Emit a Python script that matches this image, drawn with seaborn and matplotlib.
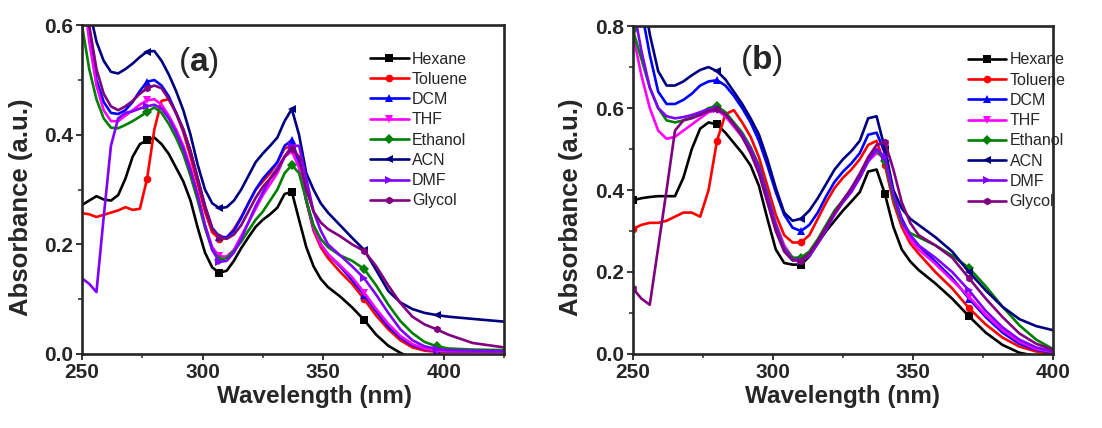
import numpy as np
import pandas as pd
import seaborn as sns
import matplotlib
matplotlib.use("Agg")
import matplotlib.pyplot as plt
from matplotlib.ticker import MultipleLocator

# ---------------- data ----------------
solvents = ["Hexane", "Toluene", "DCM", "THF", "Ethanol", "ACN", "DMF", "Glycol"]
colors = ["#000000", "#FF0000", "#0000FF", "#FF00FF", "#008000", "#000080", "#8000FF", "#800080"]
markers = ["s", "o", "^", "v", "D", "<", ">", "h"]

# panel (a) wavelengths (nm)
wl_a = [250, 253, 256, 259, 262, 265, 268, 271, 274, 277, 280, 283, 286, 289, 292, 295,
        298, 301, 304, 307, 310, 313, 316, 319, 322, 325, 328, 331, 334, 337, 340, 343,
        346, 349, 352, 357, 362, 367, 372, 377, 382, 387, 392, 397, 402, 412, 425]

hexane_a = [0.272, 0.280, 0.288, 0.282, 0.280, 0.290, 0.320, 0.360, 0.383, 0.390, 0.395, 0.383,
            0.365, 0.340, 0.315, 0.280, 0.230, 0.185, 0.158, 0.148, 0.152, 0.170, 0.193, 0.213,
            0.232, 0.245, 0.255, 0.267, 0.292, 0.296, 0.245, 0.195, 0.160, 0.137, 0.122, 0.105,
            0.085, 0.062, 0.035, 0.015, 0.002, -0.008, -0.015, -0.020, -0.020, -0.020, -0.020]
toluene_a = [0.257, 0.255, 0.250, 0.254, 0.258, 0.262, 0.268, 0.263, 0.265, 0.320, 0.410, 0.462,
             0.465, 0.440, 0.405, 0.360, 0.310, 0.260, 0.222, 0.210, 0.212, 0.228, 0.250, 0.275,
             0.300, 0.315, 0.330, 0.350, 0.375, 0.380, 0.350, 0.280, 0.225, 0.195, 0.175, 0.150,
             0.128, 0.100, 0.070, 0.045, 0.025, 0.012, 0.006, 0.004, 0.004, 0.004, 0.004]
dcm_a = [0.700, 0.585, 0.500, 0.460, 0.440, 0.438, 0.445, 0.460, 0.480, 0.497, 0.500, 0.490,
         0.470, 0.440, 0.410, 0.370, 0.320, 0.270, 0.230, 0.214, 0.213, 0.225, 0.248, 0.275,
         0.300, 0.320, 0.335, 0.350, 0.380, 0.390, 0.350, 0.280, 0.230, 0.200, 0.182, 0.160,
         0.135, 0.108, 0.078, 0.050, 0.030, 0.016, 0.009, 0.006, 0.005, 0.005, 0.005]
thf_a = [0.690, 0.570, 0.490, 0.445, 0.425, 0.425, 0.435, 0.445, 0.455, 0.463, 0.465, 0.455,
         0.435, 0.410, 0.380, 0.340, 0.290, 0.235, 0.195, 0.178, 0.178, 0.190, 0.215, 0.240,
         0.265, 0.290, 0.310, 0.330, 0.360, 0.370, 0.340, 0.280, 0.230, 0.200, 0.182, 0.162,
         0.140, 0.112, 0.082, 0.055, 0.033, 0.018, 0.010, 0.006, 0.005, 0.005, 0.005]
ethanol_a = [0.600, 0.520, 0.465, 0.430, 0.413, 0.412, 0.418, 0.425, 0.433, 0.442, 0.450, 0.440,
             0.420, 0.395, 0.365, 0.325, 0.280, 0.230, 0.190, 0.172, 0.175, 0.188, 0.205, 0.225,
             0.245, 0.260, 0.280, 0.300, 0.330, 0.345, 0.330, 0.280, 0.235, 0.210, 0.195, 0.180,
             0.170, 0.155, 0.125, 0.090, 0.060, 0.038, 0.022, 0.014, 0.010, 0.008, 0.007]
acn_a = [0.720, 0.630, 0.570, 0.535, 0.515, 0.512, 0.520, 0.530, 0.542, 0.552, 0.553, 0.535,
         0.510, 0.480, 0.445, 0.400, 0.345, 0.300, 0.275, 0.266, 0.268, 0.280, 0.300, 0.325,
         0.350, 0.366, 0.380, 0.395, 0.425, 0.447, 0.400, 0.330, 0.300, 0.275, 0.258, 0.235,
         0.212, 0.190, 0.153, 0.115, 0.094, 0.082, 0.075, 0.071, 0.068, 0.064, 0.059]
dmf_a = [0.138, 0.128, 0.113, 0.250, 0.380, 0.430, 0.440, 0.443, 0.448, 0.452, 0.455, 0.448,
         0.430, 0.405, 0.375, 0.335, 0.290, 0.235, 0.190, 0.168, 0.170, 0.185, 0.210, 0.240,
         0.270, 0.295, 0.320, 0.340, 0.360, 0.380, 0.380, 0.320, 0.260, 0.225, 0.200, 0.180,
         0.160, 0.138, 0.108, 0.075, 0.045, 0.025, 0.014, 0.009, 0.007, 0.006, 0.005]
glycol_a = [0.720, 0.600, 0.520, 0.475, 0.452, 0.445, 0.452, 0.462, 0.475, 0.485, 0.490, 0.485,
            0.465, 0.440, 0.410, 0.370, 0.320, 0.270, 0.228, 0.213, 0.210, 0.218, 0.235, 0.260,
            0.285, 0.305, 0.320, 0.335, 0.360, 0.375, 0.360, 0.300, 0.260, 0.240, 0.228, 0.215,
            0.200, 0.188, 0.160, 0.125, 0.093, 0.068, 0.054, 0.045, 0.035, 0.020, 0.012]

# panel (b) wavelengths (nm)
wl_b = [250, 253, 256, 259, 262, 265, 268, 271, 274, 277, 280, 283, 286, 289, 292, 295,
        298, 301, 304, 307, 310, 313, 316, 319, 322, 325, 328, 331, 334, 337, 340, 343,
        346, 349, 352, 358, 364, 370, 376, 382, 388, 394, 400]

hexane_b = [0.375, 0.380, 0.383, 0.385, 0.385, 0.385, 0.430, 0.500, 0.550, 0.565, 0.560, 0.540,
            0.515, 0.490, 0.460, 0.410, 0.330, 0.255, 0.222, 0.218, 0.218, 0.238, 0.270, 0.300,
            0.325, 0.350, 0.372, 0.395, 0.445, 0.450, 0.390, 0.310, 0.255, 0.226, 0.205, 0.172,
            0.135, 0.092, 0.052, 0.022, 0.003, -0.005, -0.010]
toluene_b = [0.305, 0.315, 0.320, 0.320, 0.325, 0.335, 0.345, 0.345, 0.335, 0.400, 0.520, 0.585,
             0.595, 0.565, 0.530, 0.480, 0.410, 0.340, 0.290, 0.272, 0.272, 0.290, 0.330, 0.370,
             0.405, 0.430, 0.450, 0.475, 0.510, 0.520, 0.460, 0.370, 0.310, 0.270, 0.245, 0.200,
             0.160, 0.112, 0.072, 0.040, 0.018, 0.006, 0.000]
dcm_b = [0.950, 0.840, 0.730, 0.640, 0.610, 0.610, 0.620, 0.635, 0.655, 0.665, 0.668, 0.655,
         0.630, 0.600, 0.565, 0.520, 0.460, 0.395, 0.340, 0.308, 0.300, 0.315, 0.345, 0.385,
         0.420, 0.445, 0.465, 0.490, 0.535, 0.540, 0.490, 0.390, 0.330, 0.290, 0.265, 0.225,
         0.185, 0.135, 0.090, 0.052, 0.025, 0.010, 0.004]
thf_b = [0.780, 0.680, 0.600, 0.545, 0.525, 0.530, 0.545, 0.560, 0.575, 0.590, 0.595, 0.580,
         0.555, 0.530, 0.495, 0.450, 0.390, 0.320, 0.265, 0.235, 0.228, 0.240, 0.270, 0.305,
         0.345, 0.375, 0.400, 0.430, 0.470, 0.490, 0.480, 0.390, 0.320, 0.280, 0.255, 0.220,
         0.180, 0.140, 0.095, 0.058, 0.030, 0.012, 0.005]
ethanol_b = [0.790, 0.720, 0.650, 0.600, 0.570, 0.565, 0.570, 0.578, 0.588, 0.600, 0.605, 0.590,
             0.565, 0.540, 0.505, 0.460, 0.390, 0.315, 0.258, 0.235, 0.235, 0.250, 0.280, 0.315,
             0.350, 0.375, 0.400, 0.430, 0.475, 0.498, 0.470, 0.380, 0.320, 0.295, 0.285, 0.265,
             0.240, 0.210, 0.165, 0.115, 0.070, 0.035, 0.012]
acn_b = [1.000, 0.900, 0.780, 0.690, 0.655, 0.655, 0.665, 0.680, 0.693, 0.700, 0.690, 0.670,
         0.640, 0.610, 0.575, 0.535, 0.475, 0.405, 0.345, 0.325, 0.330, 0.350, 0.380, 0.415,
         0.450, 0.475, 0.495, 0.520, 0.575, 0.580, 0.500, 0.400, 0.355, 0.330, 0.315, 0.285,
         0.250, 0.200, 0.155, 0.115, 0.085, 0.068, 0.058]
dmf_b = [0.850, 0.740, 0.650, 0.600, 0.580, 0.575, 0.578, 0.583, 0.590, 0.597, 0.598, 0.585,
         0.560, 0.535, 0.500, 0.455, 0.385, 0.310, 0.255, 0.230, 0.228, 0.240, 0.270, 0.305,
         0.340, 0.370, 0.395, 0.430, 0.470, 0.500, 0.480, 0.390, 0.325, 0.290, 0.265, 0.235,
         0.200, 0.155, 0.105, 0.065, 0.035, 0.016, 0.006]
glycol_b = [0.160, 0.135, 0.120, 0.260, 0.400, 0.545, 0.570, 0.575, 0.583, 0.593, 0.597, 0.585,
            0.560, 0.530, 0.490, 0.440, 0.370, 0.300, 0.250, 0.228, 0.228, 0.245, 0.275, 0.310,
            0.345, 0.375, 0.405, 0.440, 0.480, 0.510, 0.517, 0.450, 0.370, 0.320, 0.290, 0.265,
            0.235, 0.185, 0.135, 0.090, 0.050, 0.025, 0.010]

series_a = [hexane_a, toluene_a, dcm_a, thf_a, ethanol_a, acn_a, dmf_a, glycol_a]
series_b = [hexane_b, toluene_b, dcm_b, thf_b, ethanol_b, acn_b, dmf_b, glycol_b]

# ---------------- style ----------------
sns.set_style("ticks")
plt.rcParams["font.family"] = ["Liberation Sans", "DejaVu Sans"]
plt.rcParams["mathtext.fontset"] = "custom"
plt.rcParams["mathtext.rm"] = "Liberation Sans"
plt.rcParams["mathtext.bf"] = "Liberation Sans:bold"

fig = plt.figure(figsize=(11.02, 4.28), dpi=100)
ax_a = fig.add_axes([0.0744, 0.173, 0.383, 0.768])
ax_b = fig.add_axes([0.5744, 0.173, 0.3811, 0.766])


def draw_panel(ax, wl, series, mark_idx, xlim, ylim, tag, tag_xy, leg_anchor, xlab_x, ylab_x):
    frames = []
    for name, vals in zip(solvents, series):
        frames.append(pd.DataFrame({"wavelength": wl, "absorbance": vals, "solvent": name}))
    df = pd.concat(frames, ignore_index=True)
    for name, col, mk in zip(solvents, colors, markers):
        sub = df[df["solvent"] == name]
        sns.lineplot(data=sub, x="wavelength", y="absorbance", ax=ax, color=col,
                     marker=mk, markersize=5.5, markeredgewidth=0, markevery=mark_idx,
                     linewidth=1.9, estimator=None, sort=False, errorbar=None, label=name)
    ax.set_xlim(*xlim)
    ax.set_ylim(*ylim)
    ax.xaxis.set_major_locator(MultipleLocator(50))
    ax.xaxis.set_minor_locator(MultipleLocator(25))
    ax.yaxis.set_major_locator(MultipleLocator(0.2))
    ax.yaxis.set_minor_locator(MultipleLocator(0.1))
    ax.yaxis.set_major_formatter(matplotlib.ticker.FormatStrFormatter("%.1f"))
    for sp in ax.spines.values():
        sp.set_linewidth(1.9)
        sp.set_visible(True)
    ax.tick_params(which="major", direction="out", length=4.5, width=1.3,
                   labelsize=15, pad=2)
    ax.tick_params(which="minor", direction="out", length=3, width=1.1)
    for lab in ax.get_xticklabels() + ax.get_yticklabels():
        lab.set_fontweight("bold")
    ax.set_xlabel("Wavelength (nm)", fontsize=17.5, fontweight="bold")
    ax.set_ylabel("Absorbance (a.u.)", fontsize=18.5, fontweight="bold")
    ax.xaxis.set_label_coords(xlab_x, -0.094)
    ax.yaxis.set_label_coords(ylab_x, 0.447)
    ax.text(tag_xy[0], tag_xy[1], r"$(\mathbf{" + tag + r"})$", transform=ax.transAxes,
            fontsize=24, ha="center", va="center")
    ax.legend(loc="upper left", bbox_to_anchor=leg_anchor, frameon=False, fontsize=11.5,
              handlelength=2.4, handletextpad=0.2, labelspacing=0.33, borderpad=0,
              borderaxespad=0, markerscale=1.0)


draw_panel(ax_a, wl_a, series_a, [9, 19, 29, 37, 43], (250, 425), (0, 0.6),
           "a", (0.275, 0.888), (0.683, 0.92), 0.551, -0.116)
draw_panel(ax_b, wl_b, series_b, [0, 10, 20, 30, 37], (250, 400), (0, 0.8),
           "b", (0.305, 0.896), (0.798, 0.92), 0.498, -0.119)

fig.savefig("out.png", dpi=100)
